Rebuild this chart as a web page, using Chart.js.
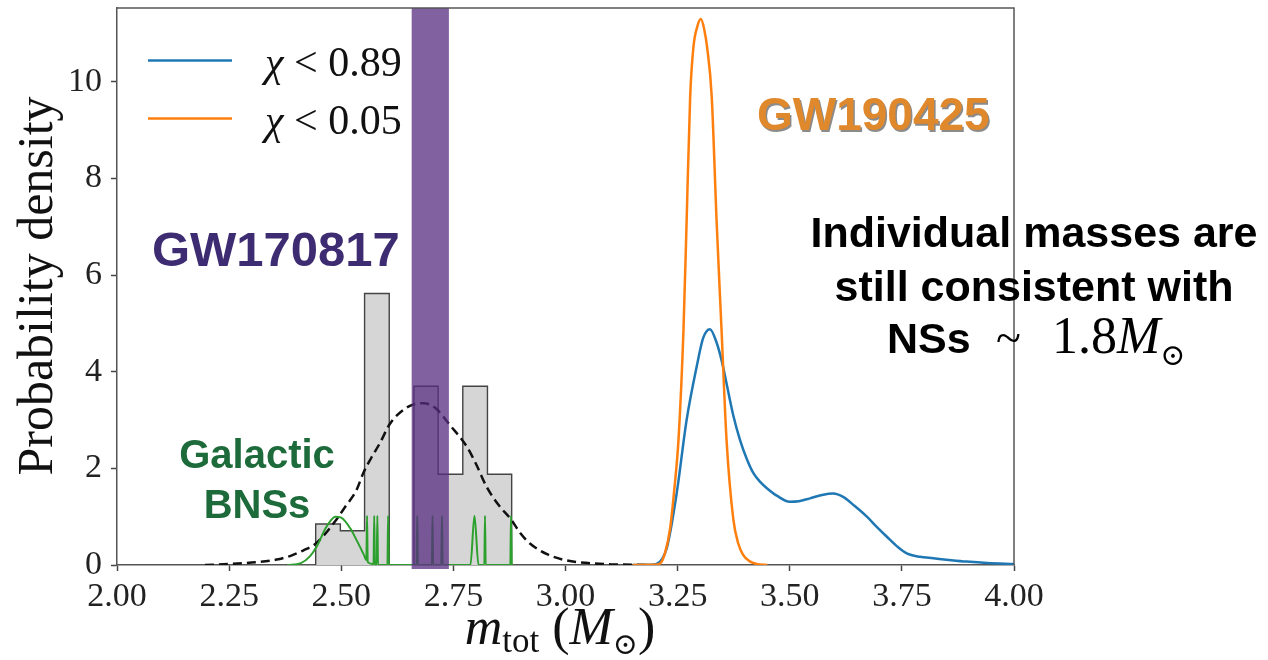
<!DOCTYPE html>
<html>
<head>
<meta charset="utf-8">
<script src="https://cdn.jsdelivr.net/npm/chart.js@4.4.0/dist/chart.umd.min.js"></script>
<style>
  html, body { margin: 0; padding: 0; background: #fff; }
  canvas { display: block; }
</style>
</head>
<body>
<canvas id="massChart" width="1268" height="660"></canvas>
<script>
// axes
const xTicks = [2.00, 2.25, 2.50, 2.75, 3.00, 3.25, 3.50, 3.75, 4.00];
const yTicks = [0, 2, 4, 6, 8, 10];
const yMax = 11.53;

// galactic BNS histogram: bin edges and heights
const histEdges = [2.443, 2.498, 2.552, 2.607, 2.662, 2.716, 2.771, 2.826, 2.880];
const histHeights = [0.85, 0.71, 5.62, 0, 3.70, 1.88, 3.70, 1.88];

// fit to the galactic population (dashed)
const fitMass = [2.196, 2.25, 2.30, 2.36, 2.39, 2.415, 2.44, 2.46, 2.486, 2.51, 2.534, 2.549, 2.567, 2.586, 2.609, 2.64, 2.66, 2.683, 2.71, 2.742, 2.78, 2.80, 2.824, 2.85, 2.878, 2.90, 2.92, 2.96, 3.00, 3.05, 3.10, 3.19];
const fitDensity = [0, 0.02, 0.05, 0.12, 0.2, 0.3, 0.42, 0.6, 0.9, 1.22, 1.55, 1.9, 2.22, 2.52, 2.93, 3.22, 3.32, 3.35, 3.25, 2.9, 2.45, 2.1, 1.62, 1.25, 0.95, 0.65, 0.45, 0.22, 0.1, 0.04, 0.015, 0];

// galactic BNSs (green)
const bnsMass = [2.38, 2.41, 2.43, 2.445, 2.467, 2.487, 2.50, 2.52, 2.535, 2.55, 2.556, 2.5575, 2.559, 2.572, 2.5735, 2.575, 2.579, 2.5805, 2.582, 2.603, 2.6045, 2.606, 2.668, 2.6695, 2.671, 2.702, 2.7035, 2.705, 2.723, 2.7245, 2.726, 2.788, 2.797, 2.806, 2.819, 2.8205, 2.822, 2.877, 2.8785, 2.88];
const bnsDensity = [0, 0.04, 0.18, 0.38, 0.79, 1.0, 0.98, 0.76, 0.5, 0.22, 0.1, 1.02, 0.06, 0.02, 1.02, 0.01, 0, 1.02, 0, 0, 1.02, 0, 0, 1.02, 0, 0, 1.02, 0, 0, 1.02, 0, 0, 1.02, 0, 0, 1.02, 0, 0, 1.02, 0];

// GW190425 total mass, chi < 0.89 (blue)
const highSpinMass = [3.15, 3.19, 3.203, 3.226, 3.248, 3.270, 3.293, 3.307, 3.322, 3.337, 3.349, 3.359, 3.374, 3.389, 3.404, 3.419, 3.434, 3.449, 3.472, 3.50, 3.52, 3.545, 3.572, 3.597, 3.619, 3.645, 3.672, 3.695, 3.716, 3.74, 3.761, 3.79, 3.82, 3.86, 3.894, 3.94, 4.0];
const highSpinDensity = [0, 0.005, 0.02, 0.36, 1.49, 3.0, 4.13, 4.7, 4.88, 4.6, 4.2, 3.76, 3.1, 2.59, 2.2, 1.9, 1.72, 1.59, 1.43, 1.31, 1.32, 1.38, 1.45, 1.48, 1.41, 1.22, 1.0, 0.78, 0.59, 0.38, 0.24, 0.17, 0.14, 0.1, 0.07, 0.04, 0.02];

// GW190425 total mass, chi < 0.05 (orange)
const lowSpinMass = [3.15, 3.20, 3.211, 3.222, 3.233, 3.243, 3.252, 3.263, 3.270, 3.278, 3.285, 3.294, 3.302, 3.309, 3.316, 3.326, 3.337, 3.348, 3.359, 3.374, 3.385, 3.396, 3.41, 3.426, 3.45];
const lowSpinDensity = [0, 0.005, 0.03, 0.25, 0.74, 1.6, 2.6, 4.85, 7.1, 9.7, 10.7, 11.15, 11.3, 11.1, 10.7, 9.7, 7.1, 4.85, 2.6, 0.96, 0.45, 0.21, 0.08, 0.02, 0];

// GW170817 total mass band
const gw170817Range = [2.657, 2.740];

const SERIF = '"Liberation Serif", "DejaVu Serif", serif';
const SANS = '"Liberation Sans", Arial, sans-serif';
const BLUE = '#1f77b4', ORANGE = '#ff7f0e';

const pts = (xs, ys) => xs.map((x, i) => ({ x: x, y: ys[i] }));

const histPoints = [{ x: histEdges[0], y: 0 }];
histHeights.forEach((h, i) => histPoints.push({ x: histEdges[i], y: h }));
histPoints.push({ x: histEdges[histEdges.length - 1], y: 0 });

// draw a row of text pieces, each [text, font, dy]
function drawRuns(ctx, x, y, parts, align) {
  let w = 0;
  parts.forEach(p => { ctx.font = p[1]; w += ctx.measureText(p[0]).width; });
  let cx = align === 'center' ? x - w / 2 : x;
  parts.forEach(p => {
    ctx.font = p[1];
    ctx.fillText(p[0], cx, y + (p[2] || 0));
    cx += ctx.measureText(p[0]).width;
  });
}

const overlay = {
  id: 'overlay',
  afterDatasetsDraw(chart) {
    const { ctx, chartArea: a, scales: { x } } = chart;
    const x0 = x.getPixelForValue(gw170817Range[0]);
    const x1 = x.getPixelForValue(gw170817Range[1]);
    ctx.save();
    ctx.fillStyle = 'rgba(88, 44, 128, 0.75)';
    ctx.fillRect(x0, a.top, x1 - x0, a.bottom - a.top + 4);
    ctx.restore();
  },
  afterDraw(chart) {
    const { ctx, chartArea: a } = chart;
    ctx.save();
    // top and right spines
    ctx.strokeStyle = '#555';
    ctx.lineWidth = 1.5;
    ctx.beginPath();
    ctx.moveTo(a.left, a.top);
    ctx.lineTo(a.right, a.top);
    ctx.lineTo(a.right, a.bottom);
    ctx.stroke();

    // legend
    ctx.lineWidth = 2.5;
    ctx.strokeStyle = BLUE;
    ctx.beginPath(); ctx.moveTo(148, 60.5); ctx.lineTo(232, 60.5); ctx.stroke();
    ctx.strokeStyle = ORANGE;
    ctx.beginPath(); ctx.moveTo(148, 118.5); ctx.lineTo(232, 118.5); ctx.stroke();
    ctx.fillStyle = '#111';
    ctx.textBaseline = 'alphabetic';
    drawRuns(ctx, 265, 76, [['χ', 'italic 42px ' + SERIF], [' < 0.89', '42px ' + SERIF]]);
    drawRuns(ctx, 265, 134, [['χ', 'italic 42px ' + SERIF], [' < 0.05', '42px ' + SERIF]]);

    // axis titles
    drawRuns(ctx, 560, 644, [
      ['m', 'italic 52px ' + SERIF],
      ['tot', '35px ' + SERIF, 8],
      [' (', '52px ' + SERIF],
      ['M', 'italic 52px ' + SERIF],
      ['⊙', '30px ' + SERIF, 10],
      [')', '52px ' + SERIF]
    ], 'center');
    ctx.save();
    ctx.translate(52, 286);
    ctx.rotate(-Math.PI / 2);
    ctx.textAlign = 'center';
    ctx.font = '50px ' + SERIF;
    ctx.fillText('Probability density', 0, 0);
    ctx.restore();

    // annotations
    ctx.font = 'bold 49px ' + SANS;
    ctx.fillStyle = '#3e2c72';
    ctx.fillText('GW170817', 152, 266);

    ctx.font = 'bold 40px ' + SANS;
    ctx.fillStyle = '#1d6b3a';
    ctx.textAlign = 'center';
    ctx.fillText('Galactic', 257, 468);
    ctx.fillText('BNSs', 257, 518);

    ctx.textAlign = 'left';
    ctx.font = 'bold 46px ' + SANS;
    ctx.fillStyle = 'rgba(110, 110, 110, 0.8)';
    ctx.fillText('GW190425', 758.5, 131.5);
    ctx.fillStyle = '#e0882c';
    ctx.fillText('GW190425', 757, 130);

    ctx.fillStyle = '#000';
    ctx.textAlign = 'center';
    ctx.font = 'bold 43px ' + SANS;
    ctx.fillText('Individual masses are', 1034, 247);
    ctx.fillText('still consistent with', 1034, 301);
    ctx.textAlign = 'left';
    ctx.fillText('NSs', 887, 353);
    ctx.font = '46px ' + SERIF;
    ctx.fillText('~', 996, 353);
    drawRuns(ctx, 1052, 353, [
      ['1.8', '52px ' + SERIF],
      ['M', 'italic 52px ' + SERIF],
      ['⊙', '30px ' + SERIF, 12]
    ]);
    ctx.restore();
  }
};

const tickFont = { family: SERIF, size: 34 };

new Chart(document.getElementById('massChart'), {
  type: 'scatter',
  data: {
    datasets: [
      {
        label: 'Galactic BNS histogram',
        data: histPoints,
        showLine: true,
        stepped: true,
        fill: 'origin',
        backgroundColor: '#d6d6d6',
        borderColor: '#444',
        borderWidth: 1.4,
        pointRadius: 0,
        order: 5
      },
      {
        label: 'Fit',
        data: pts(fitMass, fitDensity),
        showLine: true,
        borderColor: '#111',
        borderWidth: 2.5,
        borderDash: [9, 5],
        cubicInterpolationMode: 'monotone',
        pointRadius: 0,
        order: 4
      },
      {
        label: 'Galactic BNSs',
        data: pts(bnsMass, bnsDensity),
        showLine: true,
        borderColor: '#2ca02c',
        borderWidth: 2,
        cubicInterpolationMode: 'monotone',
        pointRadius: 0,
        order: 3
      },
      {
        label: 'χ < 0.89',
        data: pts(highSpinMass, highSpinDensity),
        showLine: true,
        borderColor: BLUE,
        borderWidth: 2.5,
        cubicInterpolationMode: 'monotone',
        pointRadius: 0,
        order: 2
      },
      {
        label: 'χ < 0.05',
        data: pts(lowSpinMass, lowSpinDensity),
        showLine: true,
        borderColor: ORANGE,
        borderWidth: 2.5,
        cubicInterpolationMode: 'monotone',
        pointRadius: 0,
        order: 1
      }
    ]
  },
  options: {
    responsive: false,
    animation: false,
    devicePixelRatio: 1,
    layout: { padding: { top: 8, right: 254, left: 0, bottom: 0 } },
    plugins: { legend: { display: false }, tooltip: { enabled: false } },
    scales: {
      x: {
        type: 'linear',
        min: 2,
        max: 4,
        afterBuildTicks: axis => { axis.ticks = xTicks.map(v => ({ value: v })); },
        afterFit: scale => { scale.height = 95; scale.paddingLeft = 0; scale.paddingRight = 0; },
        ticks: { font: tickFont, color: '#222', padding: 6, maxRotation: 0, autoSkip: false, callback: v => v.toFixed(2) },
        grid: { drawOnChartArea: false, tickLength: 6, tickColor: '#444', tickWidth: 1.5 },
        border: { color: '#555', width: 1.5 }
      },
      y: {
        min: 0,
        max: yMax,
        afterBuildTicks: axis => { axis.ticks = yTicks.map(v => ({ value: v })); },
        afterFit: scale => { scale.width = 117; scale.paddingTop = 0; scale.paddingBottom = 0; },
        ticks: { font: tickFont, color: '#222', padding: 9, callback: v => String(v) },
        grid: { drawOnChartArea: false, tickLength: 6, tickColor: '#444', tickWidth: 1.5 },
        border: { color: '#555', width: 1.5 }
      }
    }
  },
  plugins: [overlay]
});
</script>
</body>
</html>
